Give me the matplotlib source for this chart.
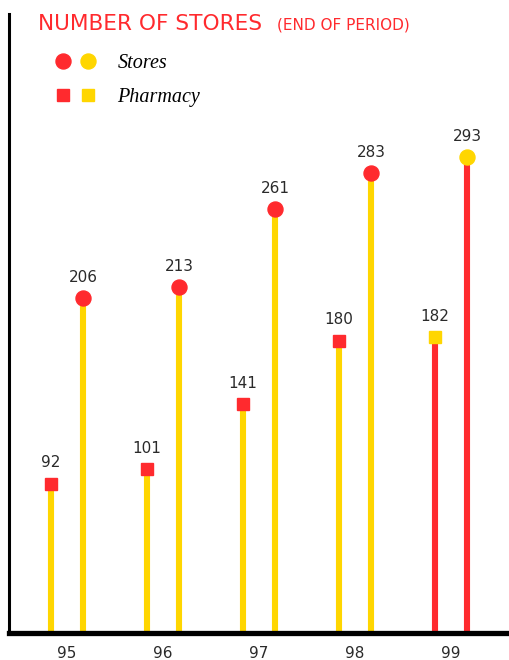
import matplotlib.pyplot as plt
from matplotlib.lines import Line2D
from matplotlib.legend_handler import HandlerTuple

RED = '#ff2a2e'
YELLOW = '#ffd600'

years = ['95', '96', '97', '98', '99']
pharmacy = [92, 101, 141, 180, 182]
stores = [206, 213, 261, 283, 293]

# last year is drawn with the colours swapped
stem_colors = [YELLOW, YELLOW, YELLOW, YELLOW, RED]
mark_colors = [RED, RED, RED, RED, YELLOW]

fig = plt.figure(figsize=(5.1, 6.6), dpi=100)
ax = fig.add_axes([9 / 510, 27 / 660, 501 / 510, 619 / 660])

off = 0.167
xs = list(range(len(years)))
for i in xs:
    xp = i - off
    xst = i + off
    ax.vlines([xp, xst], 0, [pharmacy[i], stores[i]], colors=stem_colors[i],
              linewidth=4.4, zorder=2)
    ax.plot(xp, pharmacy[i], marker='s', markersize=9.2, color=mark_colors[i],
            linestyle='none', zorder=3)
    ax.plot(xst, stores[i], marker='o', markersize=10.8, color=mark_colors[i],
            linestyle='none', zorder=3)
    ax.annotate(str(pharmacy[i]), (xp, pharmacy[i]), xytext=(0, 9.5),
                textcoords='offset points', ha='center', va='bottom',
                fontsize=11, color='#2a2a2a')
    ax.annotate(str(stores[i]), (xst, stores[i]), xytext=(0, 9.5),
                textcoords='offset points', ha='center', va='bottom',
                fontsize=11, color='#2a2a2a')

ax.set_xlim(-0.604, 4.615)
ax.set_ylim(0, 381)
ax.set_xticks(xs)
ax.set_xticklabels(years, fontsize=11, color='#2a2a2a')
ax.tick_params(axis='x', length=0, pad=9)
ax.set_yticks([])
for s in ['top', 'right']:
    ax.spines[s].set_visible(False)
ax.spines['left'].set_linewidth(2.2)
ax.spines['bottom'].set_linewidth(3.8)
ax.spines['bottom'].set_zorder(5)

fig.text(38 / 510, 1 - 24 / 660, 'NUMBER OF STORES', color=RED, fontsize=15.6,
         va='center', ha='left')
fig.text(277 / 510, 1 - 25 / 660, '(END OF PERIOD)', color=RED, fontsize=11,
         va='center', ha='left')

circ = (Line2D([], [], marker='o', color=RED, markersize=10.8, linestyle='none'),
        Line2D([], [], marker='o', color=YELLOW, markersize=10.8, linestyle='none'))
sq = (Line2D([], [], marker='s', color=RED, markersize=9.2, linestyle='none'),
      Line2D([], [], marker='s', color=YELLOW, markersize=9.2, linestyle='none'))
fig.legend([circ, sq], ['Stores', 'Pharmacy'],
           handler_map={tuple: HandlerTuple(ndivide=None, pad=0.3)},
           loc='upper left', bbox_to_anchor=(35 / 510, 1 - 36 / 660),
           frameon=False, handlelength=2.2, handletextpad=1.0,
           labelspacing=0.75,
           prop={'family': 'Liberation Serif', 'style': 'italic', 'size': 14.5})

fig.savefig('out.png', dpi=100)
